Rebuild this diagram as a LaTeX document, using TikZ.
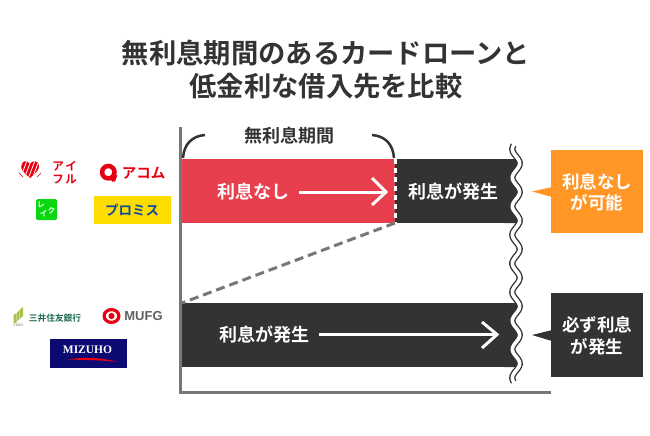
\documentclass[tikz,border=0pt]{standalone}
\usepackage{fontspec}
\setmainfont{Noto Sans CJK JP}[BoldFont={Noto Sans CJK JP Bold}]
\newfontfamily\lat{Liberation Sans}
\newfontfamily\mz{Liberation Serif}
\definecolor{ink}{HTML}{333333}
\definecolor{axisgray}{HTML}{777777}
\definecolor{redbar}{HTML}{E83F4F}
\definecolor{orangebox}{HTML}{FF9626}
\definecolor{logored}{HTML}{E60012}
\definecolor{smbc}{HTML}{1E6B4F}
\definecolor{leaf}{HTML}{A9C24A}
\definecolor{lakegreen}{HTML}{0AD70F}
\definecolor{promiseyellow}{HTML}{FFDD00}
\definecolor{promiseblue}{HTML}{0F4B9B}
\definecolor{mufggray}{HTML}{5F5F5F}
\definecolor{mizuhonavy}{HTML}{0C0A73}
\tikzset{
  px/.style={inner sep=0pt,outer sep=0pt},
  bar/.style={px,fill=ink,anchor=north west,minimum height=64pt},
  lab/.style={px,text=white,font=\fontsize{18}{22}\selectfont\bfseries,align=center},
  side/.style={px,text=white,font=\fontsize{17.5}{21.5}\selectfont\bfseries,align=center},
  flow/.style={white,line width=3pt},
  afu/.style={px,text=logored,font=\fontsize{11.5}{13}\selectfont\bfseries},
  lk/.style={px,text=white,font=\fontsize{7.5}{8}\selectfont\bfseries}
}
\begin{document}
\begin{tikzpicture}[x=1pt,y=-1pt]
\useasboundingbox[fill=white] (0,0) rectangle (650,436);
% title
\node[px,text=ink,font=\fontsize{27.3}{33}\selectfont\bfseries,align=center] (title) at (326,69.5) {無利息期間のあるカードローンと\\低金利な借入先を比較};
% bars
\node[bar,fill=redbar,minimum width=213pt] (free) at (182,159) {};
\node[bar,minimum width=110pt] (paid) at (395,159) {};
\node[bar,minimum width=323pt] (long) at (182,303) {};
% bar ends follow the broken edge
\fill[ink] (504,159) -- plot[smooth,domain=159:223,samples=40] ({516+3.7*sin(12.59*(\x-184.85))},\x) -- (504,223) -- cycle;
\fill[ink] (504,303) -- plot[smooth,domain=303:367,samples=40] ({516+3.7*sin(12.59*(\x-184.85))},\x) -- (504,367) -- cycle;
% broken edge
\draw[ink,line width=6.3pt] plot[smooth,domain=145:382,samples=120] ({516+3.7*sin(12.59*(\x-184.85))},\x);
\draw[white,line width=3.6pt] plot[smooth,domain=143:384,samples=120] ({516+3.7*sin(12.59*(\x-184.85))},\x);
% dashed
\draw[white,line width=3pt,dash pattern=on 5pt off 4pt] (free.north east) -- (free.south east);
\draw[axisgray,line width=3pt,dash pattern=on 9pt off 5pt] (free.south east) -- (long.north west);
% axes
\coordinate (origin) at (180.5,392.5);
\coordinate (ytop) at (180.5,127);
\coordinate (xend) at (551,392.5);
\draw[axisgray,line width=3pt] (ytop) -- (origin) -- (xend);
% brace
\node[px,text=ink,font=\fontsize{18}{20}\selectfont\bfseries] (period) at (289,136) {無利息期間};
\coordinate (bl1) at (183,158);\coordinate (bl2) at (205,135);
\coordinate (br1) at (372,135);\coordinate (br2) at (394,158);
\draw[ink,line width=2.5pt] (bl1) .. controls (184,144) and (192,136) .. (bl2);
\draw[ink,line width=2.5pt] (br1) .. controls (385,136) and (393,144) .. (br2);
% bar texts
\node[lab] (t1) at (253,192) {利息なし};
\node[lab] (t2) at (453.5,192) {利息が発生};
\node[lab] (t3) at (264,334.5) {利息が発生};
% arrows
\coordinate (a1e) at (386,192);
\draw[flow] (t1.east) ++(10,0) -- (a1e);
\draw[flow] (372,178) -- (a1e) -- (372,205);
\coordinate (a2e) at (497,334.5);
\draw[flow] (t3.east) ++(10,0) -- (a2e);
\draw[flow] (482,322) -- (a2e) -- (482,348);
% callouts
\fill[orangebox] (551,150) rectangle (643,233);
\fill[orangebox] (552,187) -- (532,191.5) -- (552,197) -- cycle;
\node[side] (c1) at (597,192) {利息なし\\が可能};
\fill[ink] (551,293) rectangle (643,377);
\fill[ink] (552,330) -- (532,335) -- (552,341) -- cycle;
\node[side] (c2) at (597,336) {必ず利息\\が発生};
% Aiful logo
\begin{scope}
\clip (30,178) .. controls (24,173) and (21,170) .. (21,166) .. controls (21,160) and (28,160) .. (30,164) .. controls (32,160) and (39,160) .. (39,166) .. controls (39,170) and (36,173) .. (30,178) -- cycle;
\fill[logored] (20,158) rectangle (40,179);
\foreach \k in {0,1,2,3,4} \draw[white,line width=.8pt] (24+4*\k,158) -- (16+4*\k,179);
\end{scope}
\draw[logored,line width=.4pt] (19,173) -- (23,177) (41,173) -- (37,177);
\node[afu] (af1) at (58,166) {ア};
\node[afu] (af2) at (71,166) {イ};
\node[afu] (af3) at (58,179.5) {フ};
\node[afu] (af4) at (71,179.5) {ル};
% Acom logo
\draw[logored,line width=4.5pt] (108.3,172.2) circle (6.2pt);
\fill[logored] (109,177) -- (117.5,175) -- (115,181.5) -- (112,181.5) -- cycle;
\node[px,text=logored,font=\fontsize{14.5}{16}\selectfont\bfseries] (acom) at (143.5,173) {アコム};
% Lake logo
\fill[lakegreen,rounded corners=1.5pt] (36,199) rectangle (57,220);
\node[lk] (lake1) at (41,204.5) {レ};
\node[lk] (lake2) at (43.5,213.5) {イ};
\node[lk] (lake3) at (51.5,211) {ク};
% Promise logo
\node[px,fill=promiseyellow,minimum width=77pt,minimum height=28pt] (promisebox) at (132,210) {};
\node[px,text=promiseblue,font=\fontsize{13.5}{15}\selectfont\bfseries] (promise) at (132,210) {プロミス};
% SMBC logo
\fill[leaf] (13.5,315) -- (16.5,313) -- (16.5,323) -- (13.5,323) -- cycle;
\fill[leaf] (17,312.5) -- (19.7,310) -- (19.7,319) -- (17,321) -- cycle;
\fill[leaf] (20.2,309.5) -- (23,307) -- (23,316) -- (20.2,318.5) -- cycle;
\node[px,text=gray,font=\lat\fontsize{3.5}{4}\selectfont] (smbcs) at (18.5,325.5) {SMBC};
\node[px,text=smbc,font=\fontsize{8.7}{10}\selectfont\bfseries] (smbcn) at (55,318.5) {三井住友銀行};
% MUFG logo
\draw[logored,line width=3.2pt] (111.5,316) ellipse (7.4pt and 6.4pt);
\fill[logored] (111.5,316) circle (3.1pt);
\node[px,text=mufggray,font=\lat\fontsize{13}{15}\selectfont\bfseries] (mufg) at (143.5,316) {MUFG};
% Mizuho logo
\node[px,fill=mizuhonavy,minimum width=77pt,minimum height=29pt] (mizubox) at (88.5,353.5) {};
\node[px,text=white,font=\mz\fontsize{11.5}{13}\selectfont\bfseries] (mizu) at (87.5,350) {MIZUHO};
\fill[logored] (68,359.5) .. controls (85,356.5) and (102,357.5) .. (117,362) .. controls (102,360) and (85,360) .. (68,359.5) -- cycle;
\end{tikzpicture}
\end{document}
